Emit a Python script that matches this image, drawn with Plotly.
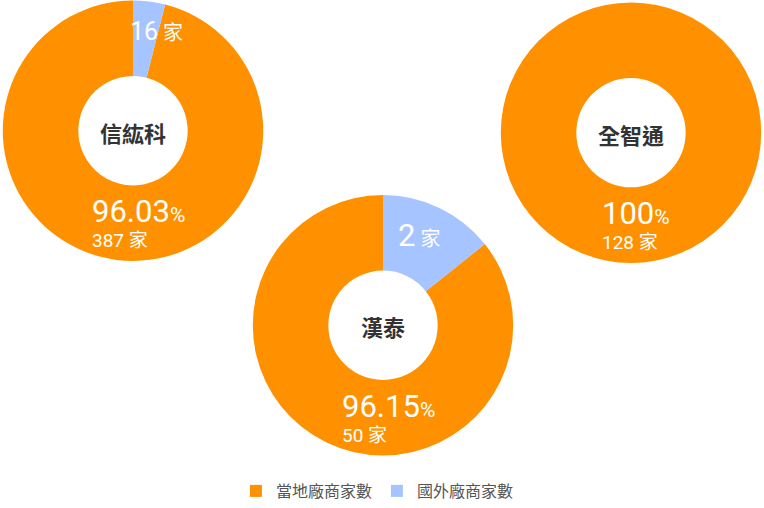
import plotly.graph_objects as go

# data
companies = ["信紘科", "漢泰", "全智通"]
local_count = [387, 50, 128]
foreign_count = [16, 2, 0]
# slice sizes as they are drawn in the picture
# (漢泰's foreign slice is drawn at about 1/7 of the ring)
local_drawn = [387, 12, 128]
foreign_drawn = [16, 2, 0]
legend_names = ["當地廠商家數", "國外廠商家數"]

ORANGE = "#FF9100"
BLUE = "#A6C4FF"
W, H = 764, 508

# pixel geometry of the three rings
centers = [(133, 132), (383, 328.5), (631, 134)]
R = 131.5
HOLE = 0.42
big_size = [31, 31, 31]
small_size = [25, 31, 25]
# where the foreign count sits, relative to ring centre (px)
foreign_offset = [(23, -100), (36, -91), (0, 0)]

font_num = "Roboto, 'Noto Sans CJK TC', sans-serif"
font_cjk = "'Noto Sans CJK TC', sans-serif"


def px(x, y):
    return x / W, 1 - y / H


fig = go.Figure()
annos = []
for i, name in enumerate(companies):
    cx, cy = centers[i]
    vals = [local_drawn[i], foreign_drawn[i]]
    blue_deg = 360 * foreign_drawn[i] / sum(vals)
    fig.add_trace(go.Pie(
        labels=legend_names,
        values=vals,
        hole=HOLE,
        sort=False,
        direction="clockwise",
        rotation=blue_deg,
        marker=dict(colors=[ORANGE, BLUE], line=dict(width=0)),
        textinfo="none",
        hoverinfo="label+value",
        showlegend=(i == 0),
        domain=dict(x=[(cx - R) / W, (cx + R) / W],
                    y=[1 - (cy + R) / H, 1 - (cy - R) / H]),
    ))

    # company name in the hole
    x, y = px(cx, cy + 1)
    annos.append(dict(x=x, y=y, text=name, showarrow=False,
                      xanchor="center", yanchor="middle",
                      font=dict(family=font_cjk, size=22, color="#333333", weight="bold")))

    # share + count of local firms
    total = local_count[i] + foreign_count[i]
    pct = f"{100 * local_count[i] / total:.2f}".rstrip("0").rstrip(".")
    x, y = px(cx + 5, cy + 93)
    annos.append(dict(
        x=x, y=y, showarrow=False, xanchor="center", yanchor="middle", align="left",
        text=f"<span style='font-size:{big_size[i]}px'>{pct}</span>"
             f"<span style='font-size:21px'>%</span><br>{local_count[i]} 家",
        font=dict(family=font_num, size=19, color="white")))

    # count of foreign firms inside the blue slice
    if foreign_count[i] > 0:
        dx, dy = foreign_offset[i]
        x, y = px(cx + dx, cy + dy)
        annos.append(dict(
            x=x, y=y, showarrow=False, xanchor="center", yanchor="middle",
            text=f"<span style='font-size:{small_size[i]}px'>{foreign_count[i]}</span> 家",
            font=dict(family=font_num, size=20, color="white")))

fig.update_layout(
    width=W, height=H,
    margin=dict(l=0, r=0, t=0, b=0),
    paper_bgcolor="white",
    annotations=annos,
    legend=dict(orientation="h", x=0.494, xanchor="center", y=1 - 496 / H, yanchor="middle",
                font=dict(family=font_cjk, size=16, color="#555555")),
)

# page body has an 8px default margin; drop it so the chart fills the window
fig.write_html("out.html", config={"displayModeBar": False},
               post_script="document.body.style.margin='0';")
